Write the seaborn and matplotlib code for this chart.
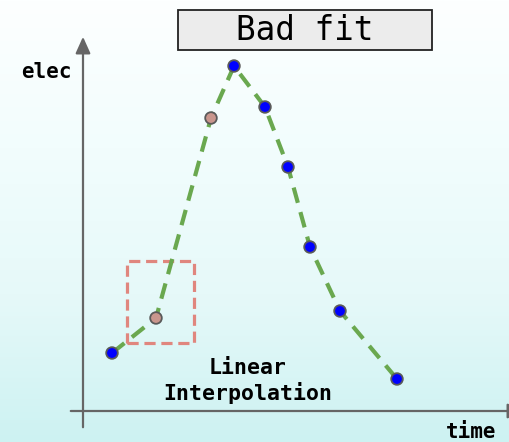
import numpy as np
import pandas as pd
import seaborn as sns
import matplotlib.pyplot as plt
from matplotlib.patches import Rectangle
from matplotlib.colors import LinearSegmentedColormap

# samples (time, elec), two of them are interpolated
time = [2.9, 7.3, 12.8, 15.1, 18.2, 20.5, 22.7, 25.7, 31.4]
elec = [5.8, 9.3, 29.3, 34.5, 30.4, 24.4, 16.4, 10.0, 3.2]
kind = ['measured', 'interpolated', 'interpolated', 'measured', 'measured',
        'measured', 'measured', 'measured', 'measured']

df = pd.DataFrame({'time': time, 'elec': elec, 'kind': kind})

sns.set_style('white')
fig = plt.figure(figsize=(5.1, 4.42), dpi=100)
ax = fig.add_axes([0, 0, 1, 1])
ax.set_xlim(-8.3, 42.7)
ax.set_ylim(-3.1, 41.1)

# soft background gradient
cmap = LinearSegmentedColormap.from_list('bg', ['#cdf2f2', '#e6f9f9', '#f2fdfd', '#fdffff'])
grad = np.linspace(0, 1, 256).reshape(-1, 1)
ax.imshow(grad, cmap=cmap, origin='lower', aspect='auto',
          extent=(-8.3, 42.7, -3.1, 41.1), zorder=0)

# axes with arrows
ax.annotate('', xy=(0, 37.7), xytext=(0, -1.9),
            arrowprops=dict(arrowstyle='-|>,head_length=1.0,head_width=0.45',
                            color='#666666', lw=1.6))
ax.annotate('', xy=(44.4, 0), xytext=(-1.5, 0),
            arrowprops=dict(arrowstyle='-|>,head_length=1.0,head_width=0.45',
                            color='#666666', lw=1.6), annotation_clip=False)

# the dashed curve and the points
sns.lineplot(data=df, x='time', y='elec', ax=ax, color='#6aa84f', lw=3.0,
             linestyle=(0, (3.8, 2.3)), zorder=2, sort=False)
sns.scatterplot(data=df, x='time', y='elec', hue='kind', ax=ax,
                palette={'measured': '#0000ff', 'interpolated': '#c9968d'},
                s=70, edgecolor='#5a5a5a', linewidth=1.3, legend=False, zorder=3)

# highlight box around the interpolation
ax.add_patch(Rectangle((4.4, 6.8), 6.7, 8.2, fill=False, edgecolor='#e0867e',
                       lw=2.3, linestyle=(0, (3.5, 1.8)), zorder=1))

# title box
ax.add_patch(Rectangle((9.5, 36.1), 25.4, 4.0, facecolor='#ececec',
                       edgecolor='#222222', lw=1.3, zorder=4))
ax.text(22.2, 38.0, 'Bad fit', ha='center', va='center', fontsize=23.5,
        family='DejaVu Sans Mono', color='black', zorder=5)

mono = dict(family='DejaVu Sans Mono', fontweight='bold', color='black')
ax.text(-3.7, 33.9, 'elec', ha='center', va='center', fontsize=15, **mono)
ax.text(38.8, -2.1, 'time', ha='center', va='center', fontsize=15, **mono)
ax.text(16.5, 3.0, 'Linear\nInterpolation', ha='center', va='center',
        fontsize=15.5, linespacing=1.2, **mono)

ax.set_xlabel('')
ax.set_ylabel('')
ax.set_xticks([])
ax.set_yticks([])
for s in ax.spines.values():
    s.set_visible(False)

fig.savefig('out.png', dpi=100)
